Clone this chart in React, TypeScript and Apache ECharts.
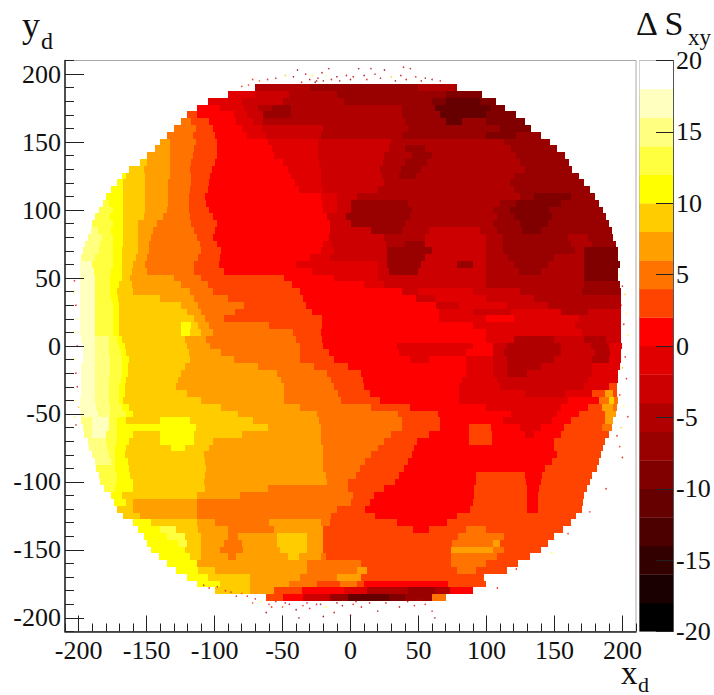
import React, { useEffect, useRef } from "react";
import * as echarts from "echarts";

const rowTop = 190;
const rowStep = 5;
const rowRuns = [
"-70 -6 -30 -8 50 -6 78",
"-90 -2 -70 -4 -45 -6 -10 -8 70 -10 97",
"-105 -2 -80 -4 -50 -6 -5 -8 60 -10 70 -12 95 -10 107",
"-113 0 -96 -2 -78 -4 -68 -6 -58 -8 -44 -6 38 -8 62 -12 103 -10 114",
"-120 2 -113 0 -86 -2 -76 -4 -64 -8 -44 -6 38 -8 66 -12 100 -10 122",
"-125 4 -117 2 -104 0 -84 -2 -72 -4 -64 -6 40 -8 70 -12 82 -8 100 -10 128",
"-130 4 -114 2 -101 0 -80 -2 -65 -4 -20 -6 42 -8 110 -10 133",
"-135 4 -116 2 -100 0 -76 -2 -62 -4 -22 -6 38 -8 100 -10 122 -8 140",
"-140 6 -133 4 -114 2 -98 0 -61 -2 -24 -4 30 -6 113 -8 147",
"-144 6 -133 4 -115 2 -98 0 -58 -2 -24 -4 28 -6 40 -8 55 -6 118 -8 152",
"-150 6 -133 4 -116 2 -98 0 -56 -2 -24 -4 25 -6 45 -8 60 -6 122 -8 158",
"-155 8 -150 6 -133 4 -117 2 -100 0 -50 -2 -23 -4 24 -6 40 -8 56 -6 125 -8 161",
"-163 8 -152 6 -133 4 -118 2 -102 0 -46 -2 -22 -4 22 -6 37 -8 52 -6 128 -8 163",
"-168 10 -165 8 -151 6 -133 4 -117 2 -103 0 -44 -2 -22 -4 23 -6 36 -8 48 -6 120 -8 168",
"-172 10 -167 8 -151 6 -134 4 -117 2 -104 0 -41 -2 -22 -4 25 -6 117 -8 172",
"-176 10 -167 8 -151 6 -134 4 -118 2 -105 0 -38 -2 -20 -4 20 -6 120 -8 176",
"-180 10 -167 8 -151 6 -134 4 -119 2 -107 0 -22 -2 -10 -4 5 -6 125 -8 135 -10 162 -8 180",
"-182 12 -178 10 -167 8 -151 6 -134 4 -119 2 -106 0 -21 -2 -10 -4 0 -8 42 -6 110 -8 122 -10 155 -8 183",
"-185 12 -175 10 -167 8 -151 6 -135 4 -119 2 -104 0 -20 -2 -10 -4 0 -8 45 -6 105 -8 117 -10 146 -8 186",
"-188 12 -177 10 -167 8 -152 6 -138 4 -118 2 -101 0 -17 -4 -3 -8 44 -6 108 -8 120 -10 148 -8 188",
"-190 12 -175 10 -167 8 -156 6 -142 4 -117 2 -98 0 -15 -4 0 -8 40 -6 105 -8 125 -10 145 -8 190",
"-191 14 -186 12 -176 10 -167 8 -156 6 -145 4 -115 2 -100 0 -15 -4 15 -8 38 -6 58 -4 95 -6 108 -8 126 -10 140 -8 192",
"-193 14 -183 12 -175 10 -167 8 -156 6 -147 4 -113 2 -101 0 -16 -4 25 -6 55 -4 100 -6 112 -8 160 -6 175 -8 193",
"-195 14 -184 12 -175 10 -167 8 -156 6 -148 4 -111 2 -98 0 -20 -2 -14 -4 26 -6 40 -8 55 -4 100 -6 112 -8 162 -6 178 -8 195",
"-197 14 -185 12 -175 10 -168 8 -156 6 -148 4 -110 2 -95 0 -22 -2 -12 -4 27 -8 60 -4 100 -6 112 -8 165 -6 172 -10 197",
"-198 14 -188 12 -175 10 -168 8 -158 6 -150 4 -112 2 -96 0 -30 -2 -15 -4 27 -8 55 -4 100 -6 116 -8 150 -6 172 -10 197",
"-199 16 -190 12 -175 10 -168 8 -160 6 -151 4 -115 2 -97 0 -40 -2 20 -4 27 -8 52 -4 78 -8 90 -4 100 -6 120 -8 145 -6 172 -10 198",
"-199 16 -189 12 -176 10 -168 8 -161 6 -150 4 -115 2 -93 0 -28 -2 20 -4 28 -8 50 -4 100 -6 124 -8 140 -6 172 -10 197",
"-199 16 -188 12 -177 10 -168 8 -162 6 -130 4 -110 2 -49 0 -12 -2 20 -4 100 -6 172 -10 197",
"-199 16 -188 12 -177 10 -170 8 -161 6 -125 4 -105 2 -43 0 10 -2 25 -4 100 -6 172 -8 198",
"-199 16 -188 12 -177 10 -172 8 -160 6 -118 4 -101 2 -37 0 38 -4 50 -2 90 -4 125 -6 170 -8 199",
"-199 16 -188 12 -176 10 -171 8 -140 6 -115 4 -90 2 -35 0 48 -4 62 -2 100 -4 135 -6 199",
"-199 16 -188 12 -175 10 -170 8 -125 6 -112 4 -78 2 -33 0 63 -4 80 -2 115 -4 145 -6 199",
"-199 16 -188 12 -175 10 -170 8 -120 6 -110 4 -85 2 -28 0 65 -2 90 -4 118 -2 155 -6 175 -4 199",
"-199 16 -188 12 -175 10 -170 8 -115 6 -107 4 -93 2 -21 0 65 -2 100 0 120 -2 168 -4 199",
"-199 16 -188 12 -175 10 -170 8 -125 10 -117 8 -112 6 -104 4 -60 2 -21 0 90 -2 165 -4 199",
"-199 16 -188 12 -175 10 -170 8 -125 10 -118 8 -110 6 -101 4 -42 2 -22 0 100 -2 170 -4 199",
"-198 16 -188 14 -178 12 -172 10 -168 8 -122 6 -106 4 -40 2 -21 0 100 -2 120 -6 150 -4 172 -6 188 -4 199",
"-197 16 -188 14 -178 12 -170 10 -166 8 -120 6 -103 4 -37 2 -20 0 34 -2 90 0 105 -4 115 -6 155 -4 177 -6 190 -2 200",
"-197 16 -188 14 -178 12 -169 10 -165 8 -119 6 -95 4 -37 2 -16 0 36 -2 85 0 105 -4 113 -6 155 -4 180 -6 191 -2 199",
"-197 16 -188 14 -177 12 -168 10 -163 8 -118 6 -86 4 -37 2 -12 0 44 -2 58 0 85 -2 105 -4 115 -6 150 -4 178 -6 190 -2 199",
"-198 16 -188 14 -177 12 -168 10 -164 8 -122 6 -68 4 -27 2 -2 0 85 -2 105 -4 115 -6 140 -4 178 -2 198",
"-198 16 -188 14 -177 12 -168 10 -164 8 -125 6 -54 4 -17 2 8 0 85 -2 105 -4 115 -6 130 -4 178 -2 197",
"-198 16 -188 14 -178 12 -169 10 -165 8 -127 6 -51 4 -14 2 9 0 82 -2 108 -4 175 -2 197",
"-198 16 -188 14 -178 12 -170 10 -166 8 -128 6 -49 4 -12 2 10 0 80 -2 110 -4 172 -2 190 2 196",
"-198 16 -188 14 -178 12 -170 10 -166 8 -120 6 -49 4 -9 2 14 0 80 -2 128 -4 158 -2 178 2 187 6 193 2 196",
"-199 16 -188 14 -178 12 -170 10 -167 8 -110 6 -49 4 -7 2 22 0 80 -2 160 0 183 4 190 8 194 4 197",
"-199 16 -187 14 -177 12 -168 10 -163 8 -95 6 -37 4 15 2 44 0 100 -2 155 0 175 2 185 6 193 4 196",
"-199 16 -186 14 -177 12 -165 10 -160 8 -83 6 -25 4 35 2 64 0 118 -2 152 0 168 2 187 6 195",
"-198 14 -190 16 -178 12 -172 10 -165 8 -140 10 -118 8 -72 6 -23 4 38 2 66 0 112 -2 148 0 162 2 187 6 193",
"-197 14 -190 16 -178 12 -172 10 -140 10 -114 8 -61 6 -22 4 38 2 66 0 87 2 103 0 125 -2 140 0 157 2 185 4 192",
"-196 14 -190 16 -180 12 -172 10 -160 8 -140 10 -115 8 -80 6 -22 4 30 2 58 0 87 2 104 0 128 -2 135 0 155 2 190",
"-193 14 -180 12 -172 10 -163 8 -140 10 -115 8 -101 6 -22 4 25 2 49 0 87 2 104 0 150 2 187",
"-192 14 -179 12 -173 10 -165 8 -132 10 -122 8 -104 6 -20 4 20 2 47 0 150 2 186",
"-190 14 -178 12 -173 10 -166 8 -108 6 -20 4 15 2 45 0 152 2 184",
"-188 14 -176 12 -173 10 -164 8 -107 6 -20 4 11 2 42 0 148 2 183",
"-187 12 -173 10 -163 8 -106 6 -20 4 7 2 39 0 143 2 181",
"-185 12 -172 10 -162 8 -107 6 -18 4 4 2 36 0 92 2 128 0 141 2 178",
"-184 12 -172 10 -160 8 -108 6 -17 4 -2 2 33 0 92 2 129 0 140 2 176",
"-181 12 -173 10 -160 8 -107 6 -61 4 -2 2 25 0 91 2 130 0 139 2 174",
"-176 10 -168 8 -113 6 -81 4 2 2 17 0 91 2 130 0 138 2 172",
"-174 10 -165 8 -160 6 -113 4 0 2 14 0 90 2 130 0 138 2 171",
"-172 8 -160 6 -113 4 -10 2 11 0 88 2 130 0 138 2 170",
"-167 8 -155 6 -113 4 -14 2 18 0 78 2 166",
"-160 10 -147 8 -113 6 -100 4 -60 6 -22 4 -15 2 34 0 71 2 162",
"-156 10 -140 12 -128 8 -112 6 -90 4 -56 6 -20 2 46 0 58 2 85 4 100 2 156",
"-152 10 -135 12 -122 8 -110 6 -90 4 -83 6 -54 8 -32 6 -20 2 79 4 113 2 150",
"-150 10 -127 12 -120 8 -110 6 -93 4 -80 6 -54 8 -32 6 -20 2 75 4 105 6 110 2 145",
"-147 10 -122 8 -110 6 -96 4 -79 6 -52 8 -32 6 -20 2 74 6 105 4 113 2 140",
"-141 10 -118 8 -110 6 -90 4 -84 6 -46 8 -38 6 -22 4 -18 2 74 4 108 2 132",
"-135 10 -113 6 -32 4 8 2 74 4 100 2 123",
"-128 10 -112 8 -100 6 -32 4 5 6 12 2 78 4 92 2 115",
"-120 10 -105 8 -74 6 -37 4 -10 6 8 2 98",
"-113 10 -96 8 -74 6 -45 4 -25 2 -8 4 5 2 10 0 72 2 100",
"-100 8 -74 6 -56 2 -36 0 -5 -2 12 -6 42 -8 62 -6 73 0 90",
"-62 2 -50 0 -35 -4 -15 -8 -2 -12 28 -10 40 -8 60 4 70",
];

const levelLow = [-20,-18,-16,-14,-12,-10,-8,-6,-4,-2,0,2,4,6,8,10,12,14,16,18];
const levelColor = ["#000000","#1a0000","#330000","#4d0000","#660000","#800000","#990000","#b00000","#cc0000","#e00000","#ff0000","#ff4400","#ff7300","#ff9f00","#ffcc00","#ffff00","#ffff40","#ffff80","#ffffc0","#ffffff"];

const speckleX = [-39,-21,-16,-72,-61,-67,-55,-48,-42,-33,-28,-24,-18,-10,-3,6,15,25,39,44,2,10,18,30,37,48,55,60,66,-80,-75,-30,-25,-14,-8,0,12,22,33,41,52,-36,-26,-20,
 -98,-92,-88,-80,-76,-70,-66,-60,-55,-50,-45,-40,-35,-30,-25,-18,-12,-6,2,8,20,36,47,55,60,62,-62,-38,-20,0,-108,-104,-84,-72,-58,-48,-32,-22,-10,4,14,26,42,52,
 -203,-203,-202,-201,-202,-201,-203,-202,-201,-202,-200,-203,-202,
 198,200,202,199,203,201,204,199,202,200,203,198,201,204,199,196,198,200,188,176,160,148,122,108];
const speckleY = [203,201,204,196,196,195,197,199,198,200,199,197,199,198,199,204,204,203,205,204,198,199,200,198,199,198,197,196,195,191,192,196,195,196,195,196,196,197,195,196,195,194,194,195,
 -177,-180,-181,-182,-184,-186,-188,-190,-188,-192,-190,-194,-191,-193,-190,-192,-196,-191,-190,-192,-195,-192,-191,-190,-195,-200,-196,-200,-199,-198,-176,-178,-184,-189,-192,-189,-189,-190,-189,-188,-189,-189,-188,-187,
 48,40,30,20,10,0,-10,-20,-30,-40,-45,-52,-58,
 52,44,38,30,24,16,8,0,-8,-16,-24,-36,-44,-52,-60,-66,-74,-82,-105,-122,-138,-152,-164,-178];
const speckleV = [-6,-8,-6,0,-2,2,-4,8,-8,-6,10,-6,14,-8,-4,-10,-6,-8,-4,-2,-6,-8,-4,8,-6,-2,-4,-6,0,-2,2,-6,-8,-4,-6,-8,-2,-6,-8,-4,-6,-2,-8,-6,
 -2,0,-4,2,-2,-4,10,0,-4,2,-6,-10,0,-2,-4,10,-6,-8,0,-2,-8,-6,-2,0,-2,-6,-8,-10,-12,-8,-2,0,-4,2,0,-4,-2,-6,-8,-4,-2,-6,-4,0,
 0,10,-2,12,10,0,10,-2,0,10,8,10,-2,
 12,-2,8,0,12,-2,10,0,-4,8,-2,0,10,-2,8,-2,0,-2,-2,0,-2,10,-2,0];

const mainRuns: number[][] = [];
rowRuns.forEach((r, i) => {
  const t = r.split(" ").map(Number);
  const y = rowTop - i * rowStep;
  for (let k = 0; k + 2 < t.length; k += 2) mainRuns.push([t[k], t[k + 2], y, t[k + 1]]);
});
const colorOf = (v: number) => levelColor[levelLow.indexOf(v)];

const range = (a: number, b: number, s: number) => {
  const o: number[] = [];
  for (let v = a; v <= b; v += s) o.push(v);
  return o;
};
const majors = range(-200, 200, 50);
const minors = range(-210, 210, 10).filter((v) => v % 50 !== 0);
const font = "Liberation Serif";
const ink = "#222";

export default function App() {
  const ref = useRef<HTMLDivElement>(null);
  useEffect(() => {
    const chart = echarts.init(ref.current!, undefined, { renderer: "svg" });
    const baseAxis = { min: -210, max: 210, splitLine: { show: false }, z: 6 };
    chart.setOption({
      animation: false,
      backgroundColor: "#fff",
      grid: [
        { left: 65, top: 60.5, width: 571, height: 571, show: true, borderColor: "#aaa", borderWidth: 1 },
        { left: 639.5, top: 60.5, width: 33.5, height: 571, show: true, borderColor: "#aaa", borderWidth: 1 },
      ],
      xAxis: [
        { ...baseAxis, type: "value", gridIndex: 0, position: "bottom",
          axisLine: { show: true, onZero: false, lineStyle: { color: ink, width: 1.5 } },
          axisTick: { show: true, inside: true, length: 16, customValues: majors, lineStyle: { color: ink, width: 1 } },
          axisLabel: { show: true, customValues: majors, fontFamily: font, fontSize: 26, color: "#111", margin: 6, hideOverlap: false, showMinLabel: true, showMaxLabel: true } },
        { ...baseAxis, type: "value", gridIndex: 0, position: "bottom",
          axisLine: { show: false, onZero: false },
          axisTick: { show: true, inside: true, length: 8, customValues: minors, lineStyle: { color: ink, width: 1 } },
          axisLabel: { show: false } },
        { type: "value", gridIndex: 1, min: 0, max: 1, show: false },
      ],
      yAxis: [
        { ...baseAxis, type: "value", gridIndex: 0, position: "left",
          axisLine: { show: true, onZero: false, lineStyle: { color: ink, width: 1.5 } },
          axisTick: { show: true, inside: true, length: 19, customValues: majors, lineStyle: { color: ink, width: 1 } },
          axisLabel: { show: true, customValues: majors, fontFamily: font, fontSize: 26, color: "#111", margin: 4 } },
        { ...baseAxis, type: "value", gridIndex: 0, position: "left",
          axisLine: { show: false, onZero: false },
          axisTick: { show: true, inside: true, length: 9, customValues: minors, lineStyle: { color: ink, width: 1 } },
          axisLabel: { show: false } },
        { type: "value", gridIndex: 1, min: -20, max: 20, interval: 5, position: "right", splitLine: { show: false }, z: 6,
          axisLine: { show: true, onZero: false, lineStyle: { color: "#555", width: 1 } },
          axisTick: { show: true, inside: true, length: 17, lineStyle: { color: ink, width: 1 } },
          axisLabel: { fontFamily: font, fontSize: 26, color: "#111", margin: 3 } },
      ],
      series: [
        { type: "custom", xAxisIndex: 0, yAxisIndex: 0, clip: true, data: mainRuns, z: 2, silent: true,
          encode: { x: [0, 1], y: 2 },
          renderItem: (_p: any, api: any) => {
            const a = api.coord([api.value(0), api.value(2) + rowStep / 2]);
            const b = api.coord([api.value(1), api.value(2) - rowStep / 2]);
            const x0 = Math.round(a[0]);
            const y0 = Math.round(a[1]);
            return { type: "rect", shape: { x: x0, y: y0, width: Math.round(b[0]) - x0, height: Math.round(b[1]) - y0 },
              style: { fill: colorOf(api.value(3)) } };
          } },
        { type: "scatter", xAxisIndex: 0, yAxisIndex: 0, z: 3, symbolSize: 1.6, silent: true,
          data: speckleX.map((x, i) => ({ value: [x, speckleY[i]], itemStyle: { color: colorOf(speckleV[i]) } })) },
        { type: "custom", xAxisIndex: 2, yAxisIndex: 2, clip: true, z: 2, silent: true,
          data: levelLow.map((v) => [v]),
          encode: { y: 0 },
          renderItem: (_p: any, api: any) => {
            const v = api.value(0);
            const a = api.coord([0, v + 2]);
            const b = api.coord([1, v]);
            return { type: "rect", shape: { x: a[0], y: a[1], width: b[0] - a[0], height: b[1] - a[1] + 0.3 },
              style: { fill: colorOf(v) } };
          } },
      ],
      graphic: [
        { type: "text", x: 22, y: 7, style: { text: "y", font: `36px ${font}`, fill: "#111" } },
        { type: "text", x: 41, y: 29, style: { text: "d", font: `24px ${font}`, fill: "#111" } },
        { type: "text", x: 621, y: 665, style: { text: "x", font: `33px ${font}`, fill: "#111", lineHeight: 16 } },
        { type: "text", x: 638, y: 677, style: { text: "d", font: `22px ${font}`, fill: "#111", lineHeight: 14 } },
        { type: "text", x: 636, y: 6, style: { text: "Δ S", font: `34px ${font}`, fill: "#111" } },
        { type: "text", x: 688, y: 26, style: { text: "xy", font: `23px ${font}`, fill: "#111" } },
      ],
    });
    return () => chart.dispose();
  }, []);
  return <div ref={ref} style={{ position: "fixed", left: 0, top: 0, width: 714, height: 695 }} />;
}
